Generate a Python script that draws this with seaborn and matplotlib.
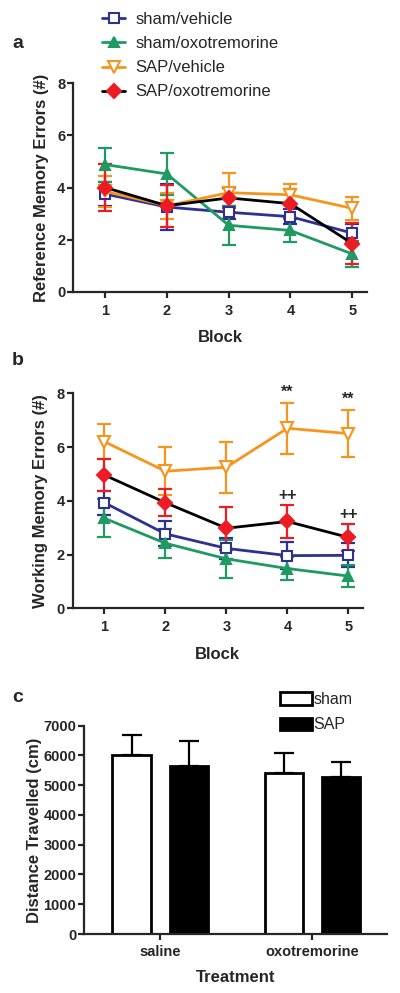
import matplotlib
matplotlib.use("Agg")
import pandas as pd
import matplotlib.pyplot as plt
import seaborn as sns
from matplotlib.patches import Patch

# ---- data ----
blocks = [1, 2, 3, 4, 5]
groups = ["sham/vehicle", "sham/oxotremorine", "SAP/vehicle", "SAP/oxotremorine"]

# panel a: reference memory errors (mean, sem)
ref_sham_vehicle = [3.75, 3.25, 3.05, 2.88, 2.25]
ref_sham_vehicle_err = [0.45, 0.9, 0.25, 0.3, 0.35]
ref_sham_oxo = [4.88, 4.52, 2.55, 2.35, 1.45]
ref_sham_oxo_err = [0.65, 0.8, 0.75, 0.45, 0.5]
ref_sap_vehicle = [3.85, 3.3, 3.8, 3.72, 3.2]
ref_sap_vehicle_err = [0.6, 0.5, 0.75, 0.4, 0.45]
ref_sap_oxo = [4.0, 3.3, 3.6, 3.38, 1.85]
ref_sap_oxo_err = [0.9, 0.8, 0.4, 0.55, 0.8]

# panel b: working memory errors (mean, sem)
work_sham_vehicle = [3.93, 2.77, 2.23, 1.96, 1.97]
work_sham_vehicle_err = [0.45, 0.47, 0.4, 0.5, 0.45]
work_sham_oxo = [3.35, 2.42, 1.84, 1.48, 1.2]
work_sham_oxo_err = [0.7, 0.53, 0.7, 0.43, 0.4]
work_sap_vehicle = [6.2, 5.1, 5.25, 6.7, 6.5]
work_sap_vehicle_err = [0.65, 0.9, 0.95, 0.95, 0.87]
work_sap_oxo = [4.96, 3.93, 2.98, 3.23, 2.64]
work_sap_oxo_err = [0.6, 0.5, 0.8, 0.6, 0.5]

star_blocks = [4, 5]      # ** SAP/vehicle vs sham/vehicle
plus_blocks = [4, 5]      # ++ SAP/oxotremorine vs SAP/vehicle

# panel c: distance travelled
treatments = ["saline", "oxotremorine"]
lesions = ["sham", "SAP"]
distance_sham = [6000, 5420]
distance_sham_err = [700, 650]
distance_sap = [5650, 5270]
distance_sap_err = [850, 500]

# ---- styles ----
BLUE = "#2e3192"
GREEN = "#1e9a62"
ORANGE = "#f7941d"
RED = "#ed1c24"

styles = {
    "sham/vehicle": dict(color=BLUE, marker="s", mfc="white", mec=BLUE, ecolor=BLUE, ms=7),
    "sham/oxotremorine": dict(color=GREEN, marker="^", mfc=GREEN, mec=GREEN, ecolor=GREEN, ms=7),
    "SAP/vehicle": dict(color=ORANGE, marker="v", mfc="white", mec=ORANGE, ecolor=ORANGE, ms=8),
    "SAP/oxotremorine": dict(color="black", marker="D", mfc=RED, mec=RED, ecolor=RED, ms=7),
}

sns.set_theme(style="ticks")
plt.rcParams["font.family"] = ["Liberation Sans", "DejaVu Sans"]
plt.rcParams["font.weight"] = "bold"
plt.rcParams["axes.labelweight"] = "bold"
plt.rcParams["axes.linewidth"] = 1.6
plt.rcParams["xtick.major.width"] = 1.6
plt.rcParams["ytick.major.width"] = 1.6
plt.rcParams["xtick.major.size"] = 4.5
plt.rcParams["ytick.major.size"] = 4
plt.rcParams["xtick.labelsize"] = 10.5
plt.rcParams["ytick.labelsize"] = 10.5
plt.rcParams["ytick.major.pad"] = 1.5
plt.rcParams["axes.labelsize"] = 12

fig = plt.figure(figsize=(4, 9.93), dpi=100)
H = 993.0


def axes_px(left, top, right, bottom):
    return fig.add_axes([left / 400, 1 - bottom / H, (right - left) / 400, (bottom - top) / H])


def line_panel(ax, means, errs, ylabel):
    rows = []
    for g, m in zip(groups, means):
        for b, v in zip(blocks, m):
            rows.append({"block": b, "group": g, "errors": v})
    df = pd.DataFrame(rows)
    for g, m, e in zip(groups, means, errs):
        st = styles[g]
        ax.errorbar(blocks, m, yerr=e, fmt="none", ecolor=st["ecolor"],
                    elinewidth=1.6, capsize=4.8, capthick=1.6, zorder=2)
        sns.lineplot(data=df[df["group"] == g], x="block", y="errors", ax=ax,
                     color=st["color"], marker=st["marker"], markersize=st["ms"],
                     markerfacecolor=st["mfc"], markeredgecolor=st["mec"],
                     markeredgewidth=1.5, linewidth=2, label=g, zorder=3)
    ax.set_ylim(0, 8)
    ax.set_yticks([0, 2, 4, 6, 8])
    ax.set_xlim(0.48, 5.24)
    ax.set_xticks(blocks)
    ax.set_xlabel("Block", labelpad=9)
    ax.set_ylabel(ylabel, labelpad=6)
    sns.despine(ax=ax)
    ax.tick_params(axis="x", pad=4)


# panel a
ax_a = axes_px(73, 83.3, 367, 291.7)
line_panel(ax_a,
           [ref_sham_vehicle, ref_sham_oxo, ref_sap_vehicle, ref_sap_oxo],
           [ref_sham_vehicle_err, ref_sham_oxo_err, ref_sap_vehicle_err, ref_sap_oxo_err],
           "Reference Memory Errors (#)")
ax_a.legend(loc="upper left", bbox_to_anchor=(102 / 400, 1 - 12 / H),
            bbox_transform=fig.transFigure, frameon=False,
            prop={"size": 12, "weight": "normal"}, borderpad=0, borderaxespad=0,
            handlelength=1.4, handletextpad=0.6, labelspacing=0.55)

# panel b
ax_b = axes_px(72.7, 393.3, 363, 608.3)
line_panel(ax_b,
           [work_sham_vehicle, work_sham_oxo, work_sap_vehicle, work_sap_oxo],
           [work_sham_vehicle_err, work_sham_oxo_err, work_sap_vehicle_err, work_sap_oxo_err],
           "Working Memory Errors (#)")
ax_b.get_legend().remove()
for b in star_blocks:
    i = blocks.index(b)
    ax_b.text(b, work_sap_vehicle[i] + work_sap_vehicle_err[i] + 0.4, "**",
              ha="center", va="center", fontsize=11.5)
for b in plus_blocks:
    i = blocks.index(b)
    ax_b.text(b, work_sap_oxo[i] + work_sap_oxo_err[i] + 0.35, "++",
              ha="center", va="center", fontsize=11.5)

# panel c
ax_c = axes_px(84, 725.7, 387, 934)
df_c = pd.DataFrame({
    "treatment": treatments * 2,
    "lesion": [lesions[0]] * 2 + [lesions[1]] * 2,
    "distance": distance_sham + distance_sap,
})
sns.barplot(data=df_c, x="treatment", y="distance", hue="lesion", order=treatments,
            hue_order=lesions, palette={"sham": "white", "SAP": "black"},
            edgecolor="black", linewidth=2, width=0.75, gap=0.33,
            errorbar=None, legend=False, ax=ax_c)
for cont, vals, errs in zip(ax_c.containers, [distance_sham, distance_sap],
                            [distance_sham_err, distance_sap_err]):
    xs = [p.get_x() + p.get_width() / 2 for p in cont]
    ax_c.errorbar(xs, vals, yerr=[[0] * len(errs), errs], fmt="none", ecolor="black",
                  elinewidth=1.6, capsize=7, capthick=1.6, zorder=1)
ax_c.set_ylim(0, 7000)
ax_c.set_yticks(range(0, 7001, 1000))
ax_c.set_xlim(-0.5, 1.49)
ax_c.set_xlabel("Treatment", labelpad=8)
ax_c.set_ylabel("Distance Travelled (cm)", labelpad=1)
sns.despine(ax=ax_c)
handles = [Patch(facecolor="white", edgecolor="black", linewidth=2),
           Patch(facecolor="black", edgecolor="black", linewidth=2)]
ax_c.legend(handles, lesions, loc="upper left", bbox_to_anchor=(280 / 400, 1 - 692 / H),
            bbox_transform=fig.transFigure, frameon=False,
            prop={"size": 11.5, "weight": "normal"}, borderpad=0, borderaxespad=0,
            handlelength=2.0, handleheight=0.8, handletextpad=0.1, labelspacing=0.65)

# panel letters
fig.text(12 / 400, 1 - 48 / H, "a", fontsize=14, fontweight="bold", va="baseline")
fig.text(12 / 400, 1 - 365 / H, "b", fontsize=14, fontweight="bold", va="baseline")
fig.text(12 / 400, 1 - 702 / H, "c", fontsize=14, fontweight="bold", va="baseline")

fig.savefig("out.png", dpi=100)
